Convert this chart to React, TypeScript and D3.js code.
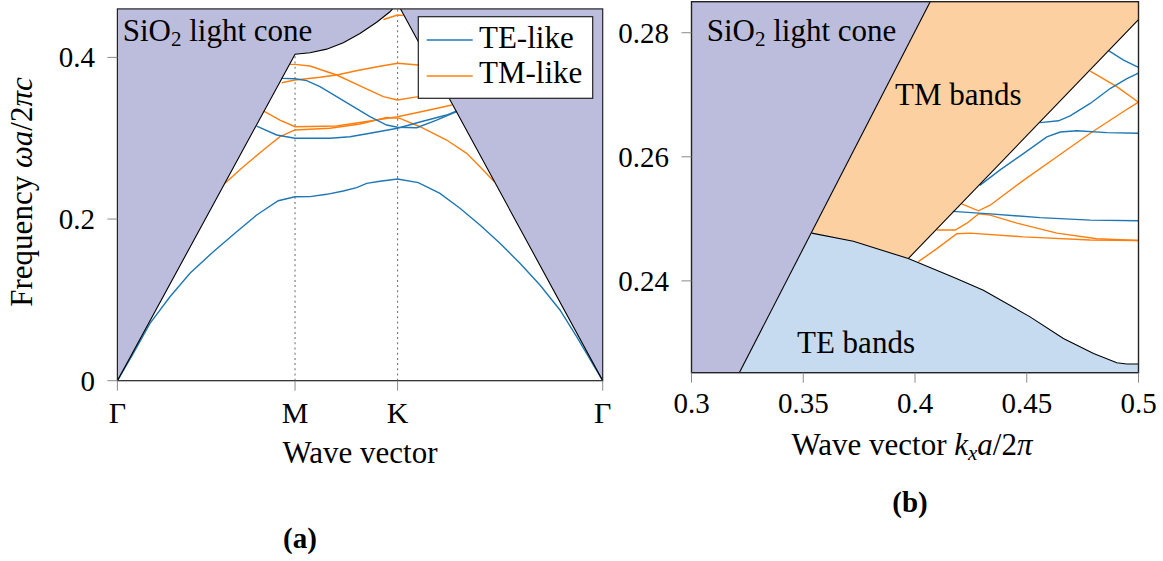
import React from "react";
import * as d3 from "d3";

type P = [number, number];

// ---------- Panel (a): band diagram along Γ-M-K-Γ ----------
const symPoints = [0, 0.5774, 0.9107, 1.5774];
const symLabels = ["Γ", "M", "K", "Γ"];
const leftYTicks = [0, 0.2, 0.4];

// SiO2 light cone boundary (path-length coordinate, frequency)
const coneLeft: P[] = [
  [0, 0], [0.5774, 0.404], [0.6259, 0.4058], [0.6802, 0.4102], [0.7342, 0.418],
  [0.7884, 0.4295], [0.8427, 0.4435], [0.8859, 0.4565], [0.9107, 0.4667], [1.5774, 0],
];

// TE-like bands
const teBand1: P[] = [
  [0, 0], [0.0517, 0.0339], [0.1059, 0.071], [0.1709, 0.1039], [0.2359, 0.1329],
  [0.3117, 0.1596], [0.3877, 0.1843], [0.4527, 0.205], [0.5229, 0.2227], [0.5772, 0.2276],
  [0.6259, 0.2278], [0.6802, 0.2306], [0.7342, 0.2347], [0.7777, 0.2388], [0.8102, 0.2442],
  [0.8534, 0.2467], [0.9107, 0.2495], [0.9779, 0.245], [1.0484, 0.2318], [1.1134, 0.2133],
  [1.1784, 0.1926], [1.2434, 0.17], [1.3084, 0.1453], [1.3734, 0.1184], [1.4384, 0.0875],
  [1.4927, 0.0544], [1.5359, 0.0268], [1.5774, 0],
];
const teBand2: P[] = [
  [0.4527, 0.3151], [0.5177, 0.304], [0.5772, 0.2999], [0.6909, 0.2999], [0.7559, 0.3019],
  [0.8209, 0.3061], [0.9107, 0.3123], [0.9834, 0.3201], [1.0702, 0.3287], [1.1027, 0.3337],
];
const teBand3: P[] = [
  [0.534, 0.3741], [0.5772, 0.3736], [0.6152, 0.3712], [0.6584, 0.3637], [0.7127, 0.3514],
  [0.7667, 0.339], [0.8209, 0.3266], [0.8752, 0.3163], [0.9107, 0.3135], [0.9727, 0.313],
  [1.0377, 0.3225], [1.1027, 0.3328],
];

// TM-like bands
const tmBand1: P[] = [
  [0.3497, 0.2442], [0.4092, 0.2648], [0.4742, 0.2855], [0.5284, 0.3019], [0.5772, 0.3102],
  [0.6909, 0.3123], [0.7884, 0.3176], [0.8752, 0.3256], [0.9184, 0.3246], [0.9834, 0.3142],
  [1.0702, 0.2978], [1.1352, 0.2813], [1.1784, 0.2648], [1.2252, 0.2462],
];
const tmBand2: P[] = [
  [0.4742, 0.3337], [0.5284, 0.3225], [0.5772, 0.3142], [0.7127, 0.3151], [0.8209, 0.3213],
  [0.9107, 0.3266], [0.9834, 0.3324], [1.0874, 0.3411],
];
const tmBand3: P[] = [
  [0.534, 0.3687], [0.5772, 0.372], [0.6584, 0.3754], [0.7127, 0.3782], [0.7884, 0.3844],
  [0.8534, 0.389], [0.9107, 0.3927], [0.9779, 0.3906], [1.0192, 0.3875],
];
const tmBand4: P[] = [
  [0.559, 0.3914], [0.5772, 0.3914], [0.6259, 0.3893], [0.7127, 0.3782], [0.7992, 0.363],
  [0.8642, 0.3514], [0.9107, 0.3473], [0.9779, 0.3514], [1.063, 0.36],
];
const tmBand5: P[] = [[0.8648, 0.4469], [0.9107, 0.4524], [0.9298, 0.4518]];

// ---------- Panel (b): zoom along kx ----------
const rightXTicks = [0.3, 0.35, 0.4, 0.45, 0.5];
const rightYTicks = [0.24, 0.26, 0.28];

const coneRight: P[] = [[0.3214, 0.2252], [0.4068, 0.285]];
const teEdge: P[] = [
  [0.3538, 0.2477], [0.3724, 0.2464], [0.397, 0.2436], [0.4172, 0.2406], [0.4306, 0.2385],
  [0.4515, 0.2342], [0.4664, 0.2307], [0.4799, 0.2283], [0.4903, 0.2268], [0.4948, 0.2266],
  [0.5, 0.2266],
];
const tmEdge: P[] = [[0.397, 0.2436], [0.5, 0.2821]];

const teLine1: P[] = [[0.4866, 0.2771], [0.4933, 0.2756], [0.5, 0.2744]];
const teLine2: P[] = [
  [0.456, 0.2655], [0.4642, 0.2658], [0.4694, 0.2666], [0.4784, 0.2686], [0.4873, 0.271],
  [0.4948, 0.2726], [0.5, 0.2735],
];
const teLine3: P[] = [
  [0.429, 0.2554], [0.4381, 0.2579], [0.4485, 0.2605], [0.459, 0.2632], [0.465, 0.264],
  [0.4724, 0.2642], [0.4859, 0.2639], [0.5, 0.2638],
];
const teLine4: P[] = [[0.4169, 0.2512], [0.4336, 0.2508], [0.456, 0.2502], [0.4784, 0.2498], [0.5, 0.2497]];

const tmLine1: P[] = [[0.4784, 0.2738], [0.4903, 0.2713], [0.5, 0.2688]];
const tmLine2: P[] = [
  [0.4209, 0.2524], [0.4284, 0.2513], [0.4336, 0.2522], [0.4485, 0.2562], [0.4635, 0.26],
  [0.4784, 0.2638], [0.4933, 0.2673], [0.5, 0.2688],
];
const tmLine3: P[] = [
  [0.4097, 0.2482], [0.418, 0.2482], [0.4232, 0.2493], [0.4284, 0.2508], [0.4336, 0.2506],
  [0.4456, 0.2493], [0.4635, 0.2477], [0.4814, 0.2468], [0.5, 0.2465],
];
const tmLine4: P[] = [
  [0.4015, 0.2431], [0.4098, 0.2452], [0.4187, 0.2476], [0.4247, 0.2477], [0.4485, 0.2471],
  [0.4784, 0.2466], [0.5, 0.2465],
];

const TE = "#1f77b4";
const TM = "#ff7f0e";
const CONE = "#bcbddc";
const TMFILL = "#fdd0a2";
const TEFILL = "#c6dbef";
const FONT = "'Liberation Serif', 'Times New Roman', serif";
const LABEL = 31;
const TICK = 29;
const SUB = 21;

export default function App() {
  const W = 1163, H = 561;
  // panel (a)
  const xL = d3.scaleLinear().domain([0, 1.5774]).range([117.4, 602.7]);
  const yL = d3.scaleLinear().domain([0, 0.46]).range([380.7, 8.9]);
  // panel (b)
  const xR = d3.scaleLinear().domain([0.3, 0.5]).range([691.5, 1138.5]);
  const yR = d3.scaleLinear().domain([0.2252, 0.285]).range([372.7, 1.7]);

  const lineL = d3.line<P>().x((d) => xL(d[0])).y((d) => yL(d[1]));
  const lineR = d3.line<P>().x((d) => xR(d[0])).y((d) => yR(d[1]));

  const [lx0, lx1] = xL.range();
  const [ly0, ly1] = yL.range();
  const [rx0, rx1] = xR.range();
  const [ry0, ry1] = yR.range();

  const xMaxL = symPoints[symPoints.length - 1];
  const purpleL: P[] = [...coneLeft, [xMaxL, 0.5], [0, 0.5]];

  const [xDom0, xDom1] = xR.domain();
  const [yDom0, yDom1] = yR.domain();
  const purpleR: P[] = [[xDom0, yDom0], coneRight[0], coneRight[1], [xDom0, yDom1]];
  const orangeR: P[] = [
    teEdge[0], coneRight[1], [xDom1, yDom1], tmEdge[1], tmEdge[0],
    ...teEdge.filter((p) => p[0] < tmEdge[0][0]).reverse(),
  ];
  const blueR: P[] = [...teEdge, [xDom1, yDom0], coneRight[0]];

  const teLeft = [teBand1, teBand2, teBand3];
  const tmLeft = [tmBand1, tmBand2, tmBand3, tmBand4, tmBand5];
  const teRight = [teLine1, teLine2, teLine3, teLine4];
  const tmRight = [tmLine1, tmLine2, tmLine3, tmLine4];

  const tickColor = "#8a8a8a";
  const bw = 1.4;

  return (
    <svg width={W} height={H} style={{ position: "absolute", left: 0, top: 0, background: "#fff" }}
      fontFamily={FONT}>
      <defs>
        <clipPath id="clipL"><rect x={lx0} y={ly1} width={lx1 - lx0} height={ly0 - ly1} /></clipPath>
        <clipPath id="clipR"><rect x={rx0} y={ry1} width={rx1 - rx0} height={ry0 - ry1} /></clipPath>
      </defs>

      {/* ---------------- Panel (a) ---------------- */}
      <g clipPath="url(#clipL)">
        {symPoints.slice(1, 3).map((s, i) => (
          <line key={i} x1={xL(s)} x2={xL(s)} y1={ly0} y2={ly1} stroke="#777" strokeWidth={1.1}
            strokeDasharray="2,3.2" />
        ))}
        <path d={lineL(purpleL) || ""} fill={CONE} stroke="none" />
        {tmLeft.map((b, i) => (
          <path key={"tm" + i} d={lineL(b) || ""} fill="none" stroke={TM} strokeWidth={bw} />
        ))}
        {teLeft.map((b, i) => (
          <path key={"te" + i} d={lineL(b) || ""} fill="none" stroke={TE} strokeWidth={bw} />
        ))}
        <path d={lineL(coneLeft) || ""} fill="none" stroke="#000" strokeWidth={1.1} />
      </g>
      <rect x={lx0} y={ly1} width={lx1 - lx0} height={ly0 - ly1} fill="none" stroke="#222" strokeWidth={1.2} />
      {symPoints.map((s, i) => (
        <g key={"xl" + i}>
          <line x1={xL(s)} x2={xL(s)} y1={ly0} y2={ly0 + 10} stroke={tickColor} strokeWidth={1} />
          <text x={xL(s)} y={423} textAnchor="middle" fontSize={LABEL - 1}>{symLabels[i]}</text>
        </g>
      ))}
      {leftYTicks.map((v, i) => (
        <g key={"yl" + i}>
          <line x1={lx0 - 10} x2={lx0} y1={yL(v)} y2={yL(v)} stroke={tickColor} strokeWidth={1} />
          <text x={95} y={yL(v)} dy="0.34em" textAnchor="end" fontSize={TICK}>{String(v)}</text>
        </g>
      ))}
      <text x={360} y={463} textAnchor="middle" fontSize={LABEL}>Wave vector</text>
      <text transform="translate(32.3,192) rotate(-90)" textAnchor="middle" fontSize={LABEL}>
        Frequency <tspan fontStyle="italic">ωa</tspan>/2<tspan fontStyle="italic">πc</tspan>
      </text>
      <text x={122.7} y={40.7} fontSize={LABEL}>
        SiO<tspan fontSize={SUB} dy={5}>2</tspan><tspan dy={-5}> light cone</tspan>
      </text>
      {/* legend */}
      <g>
        <rect x={418.3} y={16.7} width={174.4} height={81.6} fill="#fff" stroke="#222" strokeWidth={1.2} />
        <line x1={426.7} x2={472.7} y1={40} y2={40} stroke={TE} strokeWidth={1.4} />
        <text x={479} y={48.3} fontSize={LABEL}>TE-like</text>
        <line x1={426.7} x2={472.7} y1={76} y2={76} stroke={TM} strokeWidth={1.4} />
        <text x={479} y={82.7} fontSize={LABEL}>TM-like</text>
      </g>
      <text x={300} y={548} textAnchor="middle" fontSize={LABEL - 2} fontWeight="bold">(a)</text>

      {/* ---------------- Panel (b) ---------------- */}
      <g clipPath="url(#clipR)">
        <path d={lineR(purpleR) + "Z"} fill={CONE} stroke="none" />
        <path d={lineR(orangeR) + "Z"} fill={TMFILL} stroke="none" />
        <path d={lineR(blueR) + "Z"} fill={TEFILL} stroke="none" />
        {tmRight.map((b, i) => (
          <path key={"rtm" + i} d={lineR(b) || ""} fill="none" stroke={TM} strokeWidth={bw} />
        ))}
        {teRight.map((b, i) => (
          <path key={"rte" + i} d={lineR(b) || ""} fill="none" stroke={TE} strokeWidth={bw} />
        ))}
        <path d={lineR(coneRight) || ""} fill="none" stroke="#000" strokeWidth={1.1} />
        <path d={lineR(tmEdge) || ""} fill="none" stroke="#000" strokeWidth={1.1} />
        <path d={lineR(teEdge) || ""} fill="none" stroke="#000" strokeWidth={1.1} />
      </g>
      <rect x={rx0} y={ry1} width={rx1 - rx0} height={ry0 - ry1} fill="none" stroke="#222" strokeWidth={1.4} />
      {rightXTicks.map((v, i) => (
        <g key={"xr" + i}>
          <line x1={xR(v)} x2={xR(v)} y1={ry0} y2={ry0 + 10} stroke={tickColor} strokeWidth={1} />
          <text x={xR(v)} y={413} textAnchor="middle" fontSize={TICK}>{String(v)}</text>
        </g>
      ))}
      {rightYTicks.map((v, i) => (
        <g key={"yr" + i}>
          <line x1={rx0 - 10} x2={rx0} y1={yR(v)} y2={yR(v)} stroke={tickColor} strokeWidth={1} />
          <text x={669} y={yR(v)} dy="0.34em" textAnchor="end" fontSize={TICK}>{String(v)}</text>
        </g>
      ))}
      <text x={912} y={455} textAnchor="middle" fontSize={LABEL}>
        Wave vector <tspan fontStyle="italic">k</tspan>
        <tspan fontStyle="italic" fontSize={SUB} dy={5}>x</tspan>
        <tspan fontStyle="italic" dy={-5}>a</tspan>/2<tspan fontStyle="italic">π</tspan>
      </text>
      <text x={706.7} y={40.7} fontSize={LABEL}>
        SiO<tspan fontSize={SUB} dy={5}>2</tspan><tspan dy={-5}> light cone</tspan>
      </text>
      <text x={895} y={105} fontSize={LABEL}>TM bands</text>
      <text x={797} y={353.3} fontSize={LABEL}>TE bands</text>
      <text x={910} y={511.5} textAnchor="middle" fontSize={LABEL - 2} fontWeight="bold">(b)</text>
    </svg>
  );
}
